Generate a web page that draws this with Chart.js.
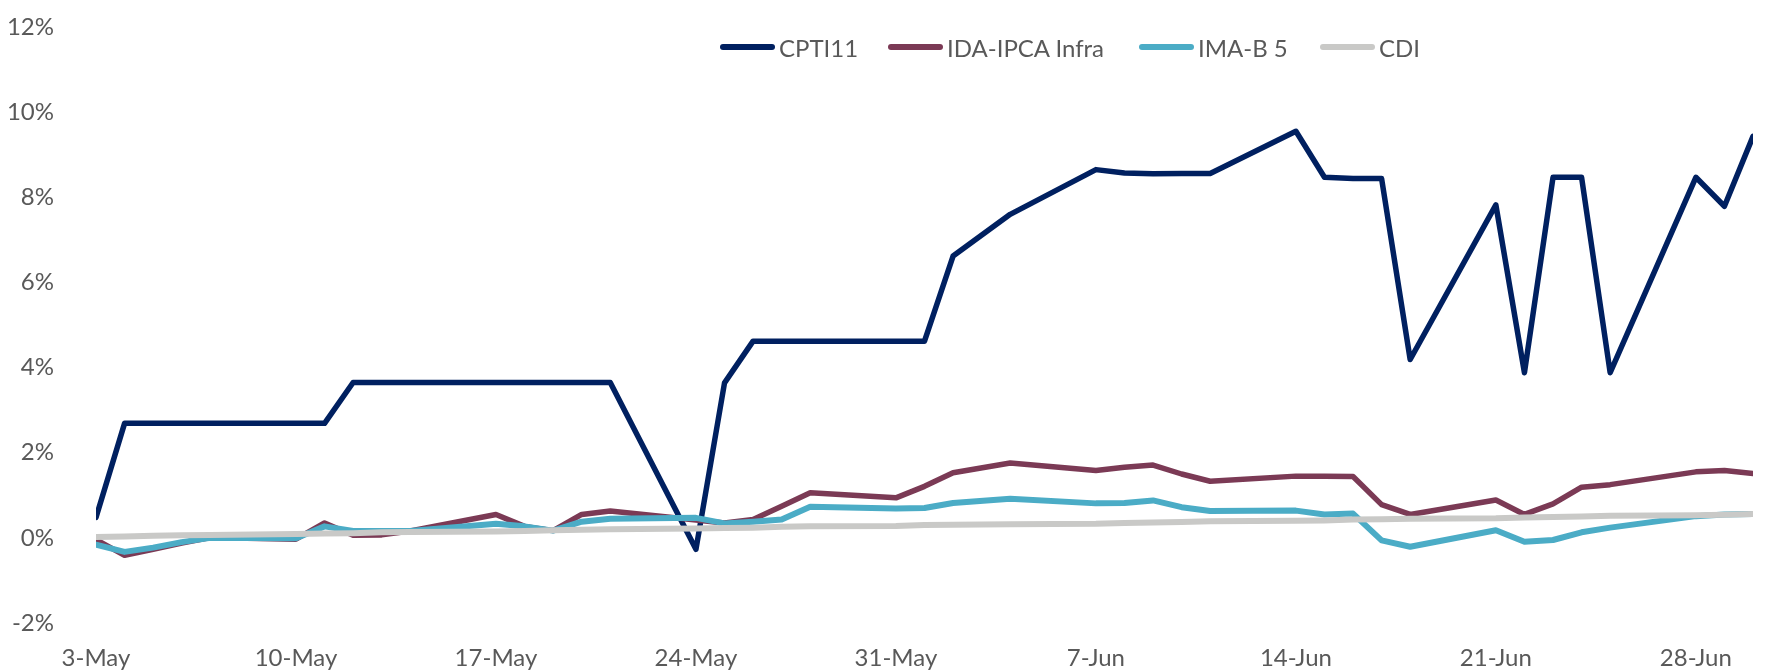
<!DOCTYPE html>
<html>
<head>
<meta charset="utf-8">
<script src="https://cdn.jsdelivr.net/npm/chart.js@4.4.1/dist/chart.umd.min.js"></script>
<style>
  html, body { margin: 0; background: #fff; overflow: hidden; }
  #wrap { position: relative; width: 1772px; height: 671px; overflow: hidden; }
  #lineChart { display: block; }
  .lg { position: absolute; top: 33px; height: 28px; display: flex; align-items: center;
        font: 24px Lato, sans-serif; color: #595959; white-space: nowrap; }
  .lg .sw { display: inline-block; width: 55px; height: 6px; border-radius: 3px; margin-right: 4px; }
</style>
</head>
<body>
<div id="wrap">
  <canvas id="lineChart" width="1772" height="671"></canvas>
  <div id="legend"></div>
</div>
<script>
(function() {

  'use strict';

  // business days, 2021
  var dates = [
    '3-May', '4-May', '5-May', '6-May', '7-May',
    '10-May', '11-May', '12-May', '13-May', '14-May',
    '17-May', '18-May', '19-May', '20-May', '21-May',
    '24-May', '25-May', '26-May', '27-May', '28-May',
    '31-May', '1-Jun', '2-Jun', '4-Jun',
    '7-Jun', '8-Jun', '9-Jun', '10-Jun', '11-Jun',
    '14-Jun', '15-Jun', '16-Jun', '17-Jun', '18-Jun',
    '21-Jun', '22-Jun', '23-Jun', '24-Jun', '25-Jun',
    '28-Jun', '29-Jun', '30-Jun'
  ];

  var cpti11 = [
    0.48, 2.69, 2.69, 2.69, 2.69,
    2.69, 2.69, 3.65, 3.65, 3.65,
    3.65, 3.65, 3.65, 3.65, 3.65,
    -0.27, 3.64, 4.62, 4.62, 4.62,
    4.62, 4.62, 6.62, 7.60,
    8.65, 8.57, 8.55, 8.56, 8.56,
    9.55, 8.47, 8.44, 8.44, 4.19,
    7.82, 3.88, 8.47, 8.47, 3.88,
    8.47, 7.79, 9.43
  ];

  var idaIpcaInfra = [
    -0.04, -0.41, -0.27, -0.12, 0.01,
    -0.03, 0.35, 0.06, 0.07, 0.16,
    0.55, 0.27, 0.17, 0.55, 0.63,
    0.42, 0.35, 0.43, 0.74, 1.06,
    0.94, 1.21, 1.53, 1.76,
    1.58, 1.66, 1.71, 1.50, 1.33,
    1.45, 1.45, 1.44, 0.78, 0.55,
    0.89, 0.55, 0.80, 1.19, 1.25,
    1.55, 1.58, 1.51
  ];

  var imaB5 = [
    -0.16, -0.33, -0.23, -0.10, 0.00,
    -0.01, 0.27, 0.16, 0.16, 0.16,
    0.33, 0.27, 0.17, 0.38, 0.45,
    0.47, 0.34, 0.38, 0.43, 0.73,
    0.69, 0.70, 0.82, 0.92,
    0.81, 0.82, 0.88, 0.72, 0.63,
    0.64, 0.55, 0.57, -0.06, -0.21,
    0.18, -0.09, -0.05, 0.13, 0.24,
    0.51, 0.55, 0.56
  ];

  var cdi = [
    0.02, 0.03, 0.05, 0.06, 0.07,
    0.09, 0.10, 0.11, 0.13, 0.14,
    0.15, 0.16, 0.18, 0.19, 0.20,
    0.22, 0.23, 0.24, 0.26, 0.27,
    0.28, 0.30, 0.31, 0.32,
    0.33, 0.35, 0.36, 0.37, 0.39,
    0.40, 0.41, 0.43, 0.44, 0.45,
    0.46, 0.48, 0.49, 0.50, 0.52,
    0.53, 0.54, 0.56
  ];

  var seriesNames = ['CPTI11', 'IDA-IPCA Infra', 'IMA-B 5', 'CDI'];
  var tickLabels = ['3-May', '10-May', '17-May', '24-May', '31-May', '7-Jun', '14-Jun', '21-Jun', '28-Jun'];
  var yMin = -2, yMax = 12, yStep = 2;

  // styles
  var colors = ['#002060', '#7b3a55', '#4bacc6', '#c9c9c7'];
  var widths = [5.5, 5.5, 6, 6];
  var legendLeft = [720, 888, 1139, 1320];
  var textColor = '#595959';
  var font = { family: 'Lato, sans-serif', size: 24 };

  var months = { May: 4, Jun: 5 };
  var start = new Date(2021, 4, 3);
  function dayOf(label) {
    var p = label.split('-');
    return Math.round((new Date(2021, months[p[1]], +p[0]) - start) / 86400000);
  }
  function points(values) {
    return values.map(function(v, i) { return { x: dayOf(dates[i]), y: v }; });
  }
  var tickValues = tickLabels.map(dayOf);

  var allValues = [cpti11, idaIpcaInfra, imaB5, cdi];
  var datasets = allValues.map(function(vals, i) {
    return {
      label: seriesNames[i],
      data: points(vals),
      borderColor: colors[i],
      backgroundColor: colors[i],
      borderWidth: widths[i],
      pointRadius: 0,
      tension: 0,
      borderJoinStyle: 'round',
      borderCapStyle: 'round',
      order: allValues.length - i   // later series on top, like the original
    };
  });

  new Chart(document.getElementById('lineChart').getContext('2d'), {
    type: 'line',
    data: { datasets: datasets },
    options: {
      responsive: false,
      animation: false,
      layout: { padding: { top: 27, right: 19, left: 0, bottom: 0 } },
      plugins: { legend: { display: false }, tooltip: { enabled: false } },
      scales: {
        x: {
          type: 'linear',
          min: dayOf(dates[0]),
          max: dayOf(dates[dates.length - 1]),
          grid: { display: false, drawTicks: false },
          border: { display: false },
          afterBuildTicks: function(s) {
            s.ticks = tickValues.map(function(v) { return { value: v }; });
          },
          afterFit: function(s) { s.height = 48; },
          ticks: {
            autoSkip: false,
            maxRotation: 0,
            padding: 21,
            color: textColor,
            font: font,
            callback: function(v) {
              var i = tickValues.indexOf(v);
              return i >= 0 ? tickLabels[i] : '';
            }
          }
        },
        y: {
          min: yMin,
          max: yMax,
          grid: { display: false, drawTicks: false },
          border: { display: false },
          afterFit: function(s) {
            // the big tick padding should not eat into the plot height
            s.width = 96;
            s.paddingTop = 0;
            s.paddingBottom = 0;
          },
          ticks: {
            stepSize: yStep,
            padding: 42,
            color: textColor,
            font: font,
            callback: function(v) { return v + '%'; }
          }
        }
      }
    }
  });

  // legend sits inside the plot area, as in the original
  var legend = document.getElementById('legend');
  seriesNames.forEach(function(name, i) {
    var item = document.createElement('div');
    item.className = 'lg';
    item.style.left = legendLeft[i] + 'px';
    var sw = document.createElement('span');
    sw.className = 'sw';
    sw.style.background = colors[i];
    item.appendChild(sw);
    item.appendChild(document.createTextNode(name));
    legend.appendChild(item);
  });

})();
</script>
</body>
</html>
